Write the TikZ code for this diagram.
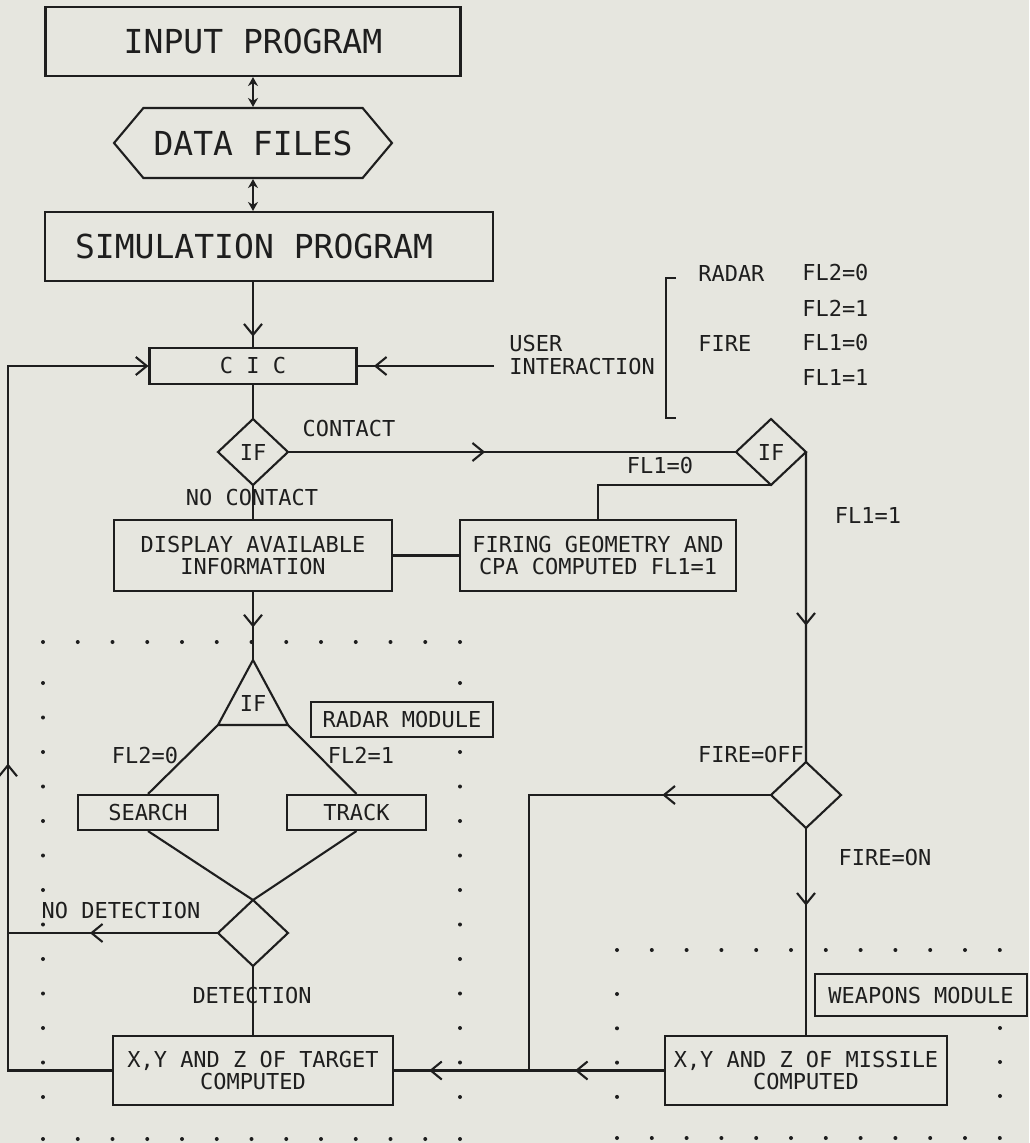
\documentclass[tikz,border=0pt]{standalone}
\usepackage{fontspec}
\newfontfamily\plotfont{DejaVu Sans Mono}
\usepackage{tikz}
\usetikzlibrary{positioning,arrows.meta,calc,shapes.geometric,shapes.symbols,
  decorations.markings}
\definecolor{paper}{RGB}{230,230,223}
\definecolor{ink}{RGB}{30,30,30}
\tikzset{
  >={Straight Barb[length=2.2mm,width=3.6mm]},
  every node/.style={font=\plotfont\fontsize{12.5}{13}\selectfont,text=ink},
  ln/.style={draw=ink,line width=1.2pt},
  bigtxt/.style={font=\plotfont\fontsize{18.8}{20}\selectfont},
  bigbox/.style={ln,rectangle,minimum height=1.38cm,bigtxt},
  procbox/.style={ln,rectangle,align=center,inner sep=1pt},
  decbox/.style={ln,diamond,minimum width=1.4cm,minimum height=1.32cm,
    inner sep=0pt,outer sep=0pt},
  modbox/.style={ln,rectangle,inner sep=1pt,minimum height=0.7cm},
  lbl/.style={inner sep=0pt},
  midarr/.style={postaction={decorate},
    decoration={markings,mark=at position #1 with {\arrow{>}}}},
  dbl/.style={ln,{Stealth[length=1.8mm,width=2mm]}-{Stealth[length=1.8mm,width=2mm]}},
}

\begin{document}
\begin{tikzpicture}[x=0.02cm,y=-0.02cm]
  \fill[paper] (0,0) rectangle (1029,1143);
  \useasboundingbox (0,0) rectangle (1029,1143);

  % dotted module borders
  \foreach \k in {0,...,12} {
    \fill[ink] ({43+34.75*\k},642) circle (0.04cm);
    \fill[ink] ({43+34.75*\k},1139) circle (0.04cm);
    \fill[ink] (43,{683+34.5*\k}) circle (0.04cm);
  }
  \foreach \k in {0,2,3,...,12}
    \fill[ink] (460,{683+34.5*\k}) circle (0.04cm);
  \foreach \k in {0,...,11} {
    \fill[ink] ({617+34.8*\k},950) circle (0.04cm);
    \fill[ink] ({617+34.8*\k},1138) circle (0.04cm);
  }
  \foreach \k in {0,...,3}
    \fill[ink] (617,{994+34.3*\k}) circle (0.04cm);
  \foreach \k in {0,...,2}
    \fill[ink] (1000,{1028+34*\k}) circle (0.04cm);

  \node[bigbox,minimum width=8.3cm] (inp) at (253,41.5) {INPUT PROGRAM};
  \node[ln,signal,signal to=west and east,signal pointer angle=100,
    minimum width=5.56cm,minimum height=1.4cm,bigtxt] (data) at (253,143) {DATA FILES};
  \node[bigbox,text width=7.76cm,align=flush left,inner xsep=0.6cm] (sim) at (269,246.5)
    {SIMULATION PROGRAM};
  \node[procbox,minimum width=4.14cm,minimum height=0.72cm] (cic) at (253,366) {C I C};
  \node[decbox] (ifc) at (253,452) {IF};
  \node[decbox] (ifb) at (771,452) {IF};
  \node[procbox,minimum width=5.56cm,minimum height=1.42cm] (disp) at (253,555.5)
    {DISPLAY AVAILABLE\\INFORMATION};
  \node[procbox,minimum width=5.52cm,minimum height=1.42cm] (firing) at (598,555.5)
    {FIRING GEOMETRY AND\\CPA COMPUTED FL1=1};
  \node[decbox] (firedec) at (806,795) {};
  \node[lbl] (trif) at (253,703) {IF};
  \coordinate (tapex) at (253,660);
  \coordinate (tbl) at (218,725);
  \coordinate (tbr) at (288,725);
  \node[modbox,minimum width=3.64cm] (radarmod) at (402,719.5) {RADAR MODULE};
  \node[procbox,minimum width=2.8cm,minimum height=0.7cm] (search) at (148,812.5) {SEARCH};
  \node[procbox,minimum width=2.78cm,minimum height=0.7cm] (track) at (356.5,812.5) {TRACK};
  \node[decbox] (detdec) at (253,933) {};
  \node[procbox,minimum width=5.6cm,minimum height=1.38cm] (target) at (253,1070.5)
    {X,Y AND Z OF TARGET\\COMPUTED};
  \node[modbox,minimum width=4.24cm,minimum height=0.84cm] (weapmod) at (921,995)
    {WEAPONS MODULE};
  \node[procbox,minimum width=5.64cm,minimum height=1.38cm] (missile) at (806,1070.5)
    {X,Y AND Z OF MISSILE\\COMPUTED};
  \node[lbl,align=left,anchor=west] (ui) at (509,355) {USER\\INTERACTION};
  \coordinate (uiend) at ([xshift=-0.3cm]ui.west);
  \coordinate (jn) at (529,1070.5);
  \coordinate (retl) at (8,1070.5);

  \draw[dbl] (data.north |- inp.south) -- (data.north);
  \draw[dbl] (data.south) -- (data.south |- sim.north);
  \draw[ln,midarr=0.84] (cic.north |- sim.south) -- (cic.north);
  \draw[ln,midarr=0.88] (uiend |- cic.east) -- (cic.east);
  \draw[ln] (cic.south) -- (ifc.north);
  \draw[ln,midarr=0.44] (ifc.east) -- (ifb.west);
  \draw[ln] (ifb.south) -| (firing.north);
  \draw[ln] (ifc.south) -- (disp.north);
  \draw[ln] (disp.east) -- (firing.west);
  \draw[ln,midarr=0.56] (ifb.east) -- (firedec.north);
  \draw[ln,midarr=0.375] (firedec.south) -- (missile.north);
  \draw[ln,midarr=0.21] (firedec.west) -| (jn);
  \draw[ln,midarr=0.66] (missile.west) -- (jn);
  \draw[ln,midarr=0.74] (jn) -- (target.east);
  \draw[ln,midarr=0.52] (disp.south) -- (tapex);
  \draw[ln] (tapex) -- (tbl) -- (tbr) -- cycle;
  \draw[ln] (tbl) -- (search.north);
  \draw[ln] (tbr) -- (track.north);
  \draw[ln] (search.south) -- (detdec.north);
  \draw[ln] (track.south) -- (detdec.north);
  \draw[ln,midarr=0.61] (detdec.west) -- (detdec.west -| retl);
  \draw[ln] (detdec.south) -- (target.north);
  \draw[ln,->,midarr=0.433] (target.west) -- (retl) |- (cic.west);

  % user interaction list
  \draw[ln] (676,278) -- (666,278) -- (666,418) -- (676,418);
  \node[lbl,anchor=west] (lradar) at (698,273) {RADAR};
  \node[lbl,anchor=west] (lfl2a) at (802,273) {FL2=0};
  \node[lbl,anchor=west] (lfl2b) at (802,308) {FL2=1};
  \node[lbl,anchor=west] (lfire) at (698,343) {FIRE};
  \node[lbl,anchor=west] (lfl1a) at (802,343) {FL1=0};
  \node[lbl,anchor=west] (lfl1b) at (802,377) {FL1=1};

  % branch labels
  \node[lbl] (lcont) at (349,428) {CONTACT};
  \node[lbl] (lnocont) at (252,497) {NO CONTACT};
  \node[lbl] (lifbz) at (660,465) {FL1=0};
  \node[lbl] (lifbo) at (868,515) {FL1=1};
  \node[lbl] (lfoff) at (751,754) {FIRE=OFF};
  \node[lbl] (lfon) at (885,857) {FIRE=ON};
  \node[lbl] (lsrch) at (145,755) {FL2=0};
  \node[lbl] (ltrck) at (361,755) {FL2=1};
  \node[lbl] (lnodet) at (121,910) {NO DETECTION};
  \node[lbl] (ldet) at (252,995) {DETECTION};
\end{tikzpicture}
\end{document}
